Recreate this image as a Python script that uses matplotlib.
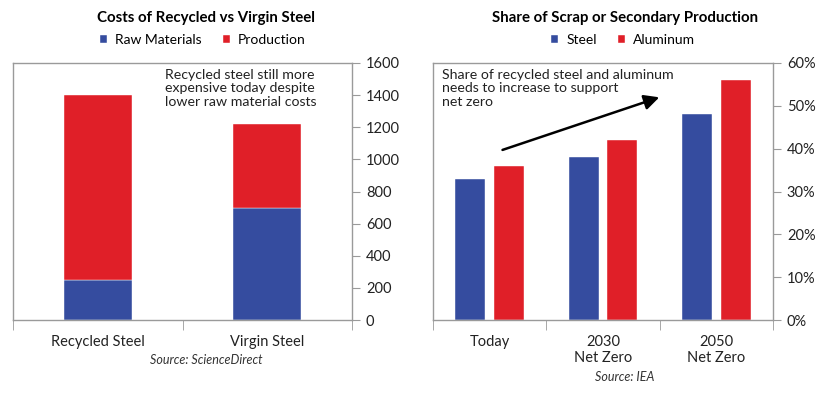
import numpy as np
import matplotlib.pyplot as plt
from matplotlib.ticker import PercentFormatter

plt.rcParams['font.family'] = ['Lato', 'DejaVu Sans']

BLUE = '#354C9F'
RED = '#E01F28'
GREY = '#9a9a9a'

# left chart: costs
cost_cats = ['Recycled Steel', 'Virgin Steel']
raw_materials = [250, 700]
production = [1150, 520]

# right chart: share of scrap
share_cats = ['Today', '2030\nNet Zero', '2050\nNet Zero']
steel_share = [33, 38, 48]
aluminum_share = [36, 42, 56]

fig = plt.figure(figsize=(8.4, 3.94), dpi=100)
ax1 = fig.add_axes([13 / 840, 1 - 320 / 394, 339 / 840, 257 / 394])
ax2 = fig.add_axes([433 / 840, 1 - 320 / 394, 340 / 840, 257 / 394])


def style(ax, n):
    for s in ax.spines.values():
        s.set_color(GREY)
        s.set_linewidth(1)
    ax.yaxis.tick_right()
    ax.tick_params(axis='y', colors=GREY, labelcolor='#222222', length=6,
                   labelsize=10.5, pad=4)
    ax.set_xlim(-0.5, n - 0.5)
    ax.set_xticks(range(n))
    ax.set_xticks(np.arange(-0.5, n, 1), minor=True)
    ax.tick_params(axis='x', which='major', length=0, labelsize=10.5,
                   labelcolor='#222222', pad=11)
    ax.tick_params(axis='x', which='minor', length=7, color=GREY)


def legend(ax):
    ax.legend(loc='center', bbox_to_anchor=(0.56, 1 + 23 / 257), ncol=2,
              frameon=False, fontsize=10, handlelength=0.5, handleheight=0.5,
              columnspacing=1.5, handletextpad=0.6)


# --- costs chart
x = np.arange(len(cost_cats))
ax1.bar(x, raw_materials, 0.4, color=BLUE, edgecolor='white', linewidth=0.3,
        label='Raw Materials')
ax1.bar(x, production, 0.4, bottom=raw_materials, color=RED, edgecolor='white',
        linewidth=0.3, label='Production')
style(ax1, len(cost_cats))
ax1.set_xticklabels(cost_cats)
ax1.set_ylim(0, 1600)
ax1.set_yticks(range(0, 1601, 200))
ax1.text(0.397, 1565, 'Recycled steel still more\nexpensive today despite\nlower raw material costs',
         fontsize=10.2, va='top', ha='left', color='#222222', linespacing=1.15)
legend(ax1)
fig.text(206 / 840, 1 - 18 / 394, 'Costs of Recycled vs Virgin Steel', fontsize=10.8,
         fontweight='bold', ha='center', va='center')
fig.text(206 / 840, 1 - 360 / 394, 'Source: ScienceDirect', fontsize=9,
         style='italic', ha='center', va='center', color='#333333')

# --- share chart
x = np.arange(len(share_cats))
off, w = 0.17, 0.265
ax2.bar(x - off, steel_share, w, color=BLUE, edgecolor='white', linewidth=0.3,
        label='Steel')
ax2.bar(x + off, aluminum_share, w, color=RED, edgecolor='white', linewidth=0.3,
        label='Aluminum')
style(ax2, len(share_cats))
ax2.set_xticklabels(share_cats, linespacing=1.15)
ax2.set_ylim(0, 60)
ax2.set_yticks(range(0, 61, 10))
ax2.yaxis.set_major_formatter(PercentFormatter(decimals=0))
ax2.text(-0.42, 58.6, 'Share of recycled steel and aluminum\nneeds to increase to support\nnet zero',
         fontsize=10.2, va='top', ha='left', color='#222222', linespacing=1.15)
ax2.annotate('', xy=(1.52, 52.2), xytext=(0.09, 39.5),
             arrowprops=dict(arrowstyle='-|>,head_length=0.9,head_width=0.45',
                             color='black', lw=1.8))
legend(ax2)
fig.text(625 / 840, 1 - 18 / 394, 'Share of Scrap or Secondary Production',
         fontsize=10.8, fontweight='bold', ha='center', va='center')
fig.text(625 / 840, 1 - 377 / 394, 'Source: IEA', fontsize=9,
         style='italic', ha='center', va='center', color='#333333')

fig.savefig('out.png', dpi=100)
